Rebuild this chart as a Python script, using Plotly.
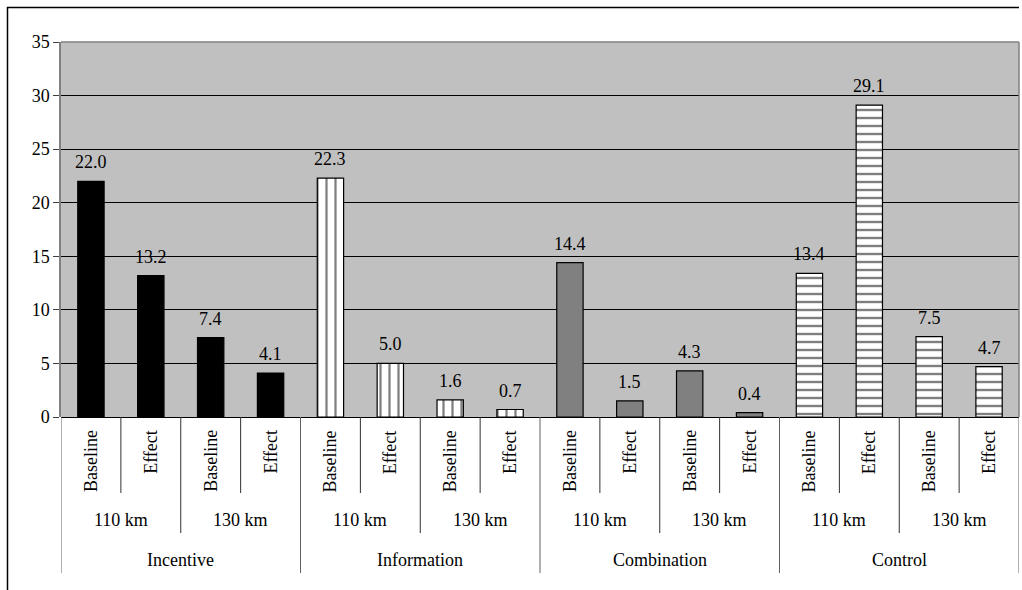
import plotly.graph_objects as go

# ---- data ----
treatments = ["Incentive", "Information", "Combination", "Control"]
speeds = ["110 km", "130 km"]
phases = ["Baseline", "Effect"]
incentive = [22.0, 13.2, 7.4, 4.1]
information = [22.3, 5.0, 1.6, 0.7]
combination = [14.4, 1.5, 4.3, 0.4]
control = [13.4, 29.1, 7.5, 4.7]
y_ticks = [0, 5, 10, 15, 20, 25, 30, 35]

series = [incentive, information, combination, control]

# ---- layout geometry (pixels) ----
W, H = 1022, 590
L, R, T, B = 61, 3, 42, 173
PW = W - L - R
PH = H - T - B
Y0 = T + PH  # pixel y of value 0


def px_x(px):
    return (px - L) / PW


def px_y(py):
    return (Y0 - py) / PH


FONT = "Liberation Serif"
FS = 18

styles = [
    dict(color="black", pattern=None),
    dict(color="white", pattern=dict(shape="|", fgcolor="black", bgcolor="white", size=9, solidity=0.25)),
    dict(color="#808080", pattern=None),
    dict(color="white", pattern=dict(shape="-", fgcolor="black", bgcolor="white", size=8, solidity=0.3)),
]

fig = go.Figure()
for t, (name, vals, st) in enumerate(zip(treatments, series, styles)):
    xs = [t * 4 + k for k in range(len(vals))]
    marker = dict(color=st["color"], line=dict(color="black", width=1.2))
    if st["pattern"]:
        marker["pattern"] = st["pattern"]
    fig.add_trace(go.Bar(x=xs, y=vals, name=name, width=0.44, marker=marker,
                         showlegend=False, hoverinfo="x+y"))

annotations = []
shapes = []

# value labels
for t, vals in enumerate(series):
    for k, v in enumerate(vals):
        annotations.append(dict(x=t * 4 + k, y=v, xref="x", yref="y", text=f"{v:.1f}",
                                showarrow=False, yanchor="bottom", yshift=7,
                                font=dict(family=FONT, size=FS, color="black")))

# category labels (3 levels)
n = len(treatments) * len(speeds) * len(phases)
for t, tr in enumerate(treatments):
    for s, sp in enumerate(speeds):
        for p, ph in enumerate(phases):
            i = t * 4 + s * 2 + p
            annotations.append(dict(x=i, y=px_y(428), xref="x", yref="paper", text=ph,
                                    textangle=-90, showarrow=False, yanchor="top",
                                    font=dict(family=FONT, size=FS, color="black")))
        annotations.append(dict(x=t * 4 + s * 2 + 0.5, y=px_y(520), xref="x", yref="paper",
                                text=sp, showarrow=False, yanchor="middle",
                                font=dict(family=FONT, size=FS, color="black")))
    annotations.append(dict(x=t * 4 + 1.5, y=px_y(560), xref="x", yref="paper",
                            text=tr, showarrow=False, yanchor="middle",
                            font=dict(family=FONT, size=FS, color="black")))

# dividers
for j in range(n + 1):
    xb = j - 0.5
    if j % 4 == 0:
        y_end = 573
        col = "#606060"
    elif j % 2 == 0:
        y_end = 533
        col = "#303030"
    else:
        y_end = 493
        col = "#303030"
    shapes.append(dict(type="line", xref="x", yref="paper", x0=xb, x1=xb,
                       y0=0, y1=px_y(y_end), line=dict(color=col, width=1)))

# plot area border (top and right gray)
shapes.append(dict(type="line", xref="paper", yref="paper", x0=0, x1=1, y0=1, y1=1,
                   line=dict(color="#808080", width=1.5)))
shapes.append(dict(type="line", xref="paper", yref="paper", x0=1, x1=1, y0=0, y1=1,
                   line=dict(color="#808080", width=1.5)))

# outer frame (top and left)
shapes.append(dict(type="line", xref="paper", yref="paper", x0=px_x(7), x1=px_x(1019),
                   y0=px_y(7.5), y1=px_y(7.5), line=dict(color="black", width=1.5)))
shapes.append(dict(type="line", xref="paper", yref="paper", x0=px_x(7.5), x1=px_x(7.5),
                   y0=px_y(7), y1=px_y(592), line=dict(color="black", width=1.5)))

fig.update_layout(
    width=W, height=H,
    margin=dict(l=L, r=R, t=T, b=B, pad=0),
    paper_bgcolor="white",
    plot_bgcolor="#C0C0C0",
    font=dict(family=FONT, size=FS, color="black"),
    annotations=annotations,
    shapes=shapes,
    xaxis=dict(range=[-0.5, n - 0.5], showticklabels=False, showgrid=False,
               zeroline=False, showline=False, ticks="", fixedrange=True),
    yaxis=dict(range=[0, 35], tickvals=y_ticks, ticks="outside", ticklen=6,
               tickcolor="#404040", tickwidth=1, showgrid=True, gridcolor="black",
               gridwidth=1, zeroline=True, zerolinecolor="black", zerolinewidth=1,
               showline=True, linecolor="#808080", linewidth=1.5,
               tickfont=dict(family=FONT, size=FS, color="black"), fixedrange=True),
)

fig.write_html("out.html",
               config={"displayModeBar": False},
               post_script="document.body.style.margin='0';document.body.style.padding='0';")
